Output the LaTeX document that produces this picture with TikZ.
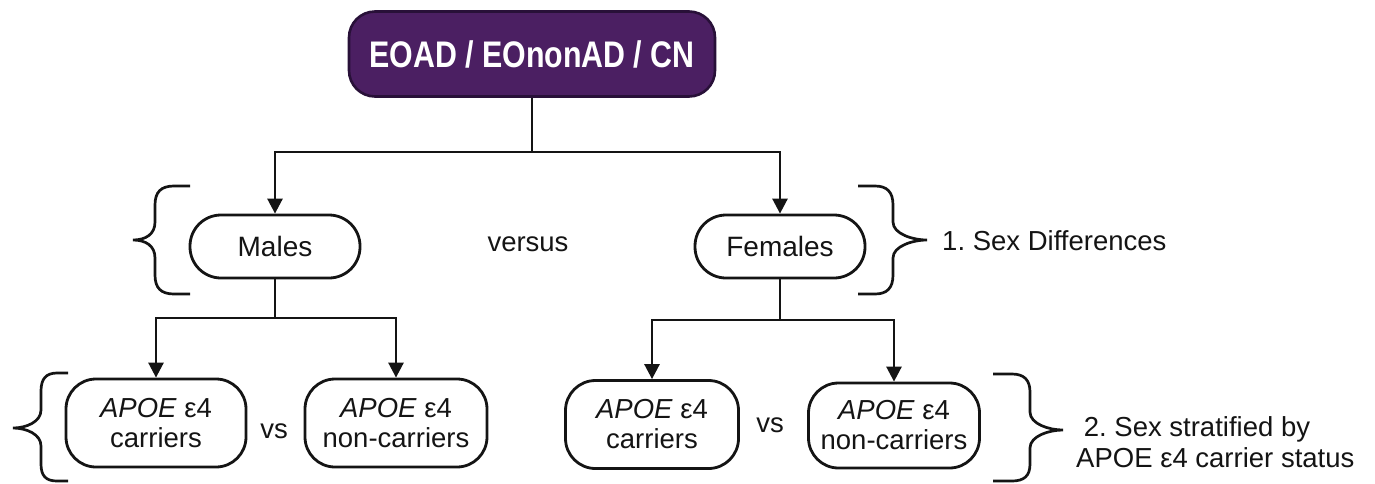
\documentclass[tikz,border=0pt]{standalone}
\usepackage{fontspec}
\setmainfont{Liberation Sans}
\newfontfamily\titlefont[FakeStretch=0.82]{Liberation Sans}
\usetikzlibrary{arrows.meta}
\definecolor{titlefill}{RGB}{75,31,98}
\definecolor{titledraw}{RGB}{40,16,56}
\definecolor{ink}{RGB}{20,20,20}
\frenchspacing
\begin{document}
\begin{tikzpicture}[x=1pt,y=-1pt,
  conn/.style={draw=ink, line width=2.7pt},
  arr/.style={conn, -{Triangle[length=15pt,width=15pt]}},
  pill/.style={draw=ink, line width=2.8pt, rounded corners=31pt, minimum width=170pt, minimum height=63pt, font=\fontsize{28}{31}\selectfont, text=ink, inner sep=0pt},
  grp/.style={draw=ink, line width=2.8pt, rounded corners=30pt, minimum height=88pt, align=center, font=\fontsize{27.5}{30}\selectfont, text=ink, inner sep=0pt},
  lbl/.style={font=\fontsize{27.5}{31}\selectfont, text=ink, inner sep=0pt},
  brace/.style={draw=ink, line width=2.7pt}
]
\useasboundingbox (0,0) rectangle (1375,483);

\node[draw=titledraw, fill=titlefill, line width=2.6pt, rounded corners=26pt, minimum width=366pt, minimum height=85pt, text=white, font=\titlefont\bfseries\fontsize{37}{40}\selectfont, inner sep=0pt] (title) at (532,54) {EOAD / EOnonAD / CN};

\node[pill] (males) at (275,246.5) {Males};
\node[pill] (females) at (780,246.5) {Females};
\node[lbl] (versus) at (528,244) {versus};

\node[grp, minimum width=180pt] (lc) at (156,423) {\textit{APOE} ε4\\carriers};
\node[grp, minimum width=182pt] (ln) at (396,423) {\textit{APOE} ε4\\non-carriers};
\node[lbl] (lvs) at (274,431) {vs};

\node[grp, minimum width=173pt] (rc) at (652,424.5) {\textit{APOE} ε4\\carriers};
\node[grp, minimum width=171pt, minimum height=85pt] (rn) at (894,425.5) {\textit{APOE} ε4\\non-carriers};
\node[lbl] (rvs) at (770,425) {vs};

\node[lbl, anchor=west] (sexdiff) at (942,241) {1. Sex Differences};
\node[lbl, anchor=west, align=left] (strat) at (1076,442) {\ 2. Sex stratified by\\APOE ε4 carrier status};

\coordinate (j1) at (532,152);
\coordinate (j2) at (275,318);
\coordinate (j3) at (780,320);

\draw[conn] (title.south) -- (j1);
\draw[arr] (j1) -| (males.north);
\draw[arr] (j1) -| (females.north);

\draw[conn] (males.south) -- (j2);
\draw[arr] (j2) -| (lc.north);
\draw[arr] (j2) -| (ln.north);

\draw[conn] (females.south) -- (j3);
\draw[arr] (j3) -| (rc.north);
\draw[arr] (j3) -| (rn.north);

% braces
\draw[brace] (190,186) -- (174,186) .. controls (161,186) and (155,192) .. (155,205) -- (155,222) .. controls (155,234) and (146,240) .. (133,240) .. controls (146,240) and (155,246) .. (155,258) -- (155,275) .. controls (155,288) and (161,294) .. (174,294) -- (190,294);
\draw[brace] (68,373) -- (57,373) .. controls (46,373) and (41,379) .. (41,391) -- (41,410) .. controls (41,422) and (26,428) .. (13,428) .. controls (26,428) and (41,434) .. (41,446) -- (41,464) .. controls (41,476) and (46,481) .. (57,481) -- (68,481);
\draw[brace] (858,186) -- (875,186) .. controls (887,186) and (893,192) .. (893,205) -- (893,222) .. controls (893,234) and (913,240) .. (927,240) .. controls (913,240) and (893,246) .. (893,258) -- (893,275) .. controls (893,288) and (887,294) .. (875,294) -- (858,294);
\draw[brace] (993,374) -- (1012,374) .. controls (1024,374) and (1030,380) .. (1030,392) -- (1030,412) .. controls (1030,424) and (1049,430) .. (1063,430) .. controls (1049,430) and (1030,436) .. (1030,448) -- (1030,464) .. controls (1030,476) and (1024,481) .. (1012,481) -- (993,481);
\end{tikzpicture}
\end{document}
